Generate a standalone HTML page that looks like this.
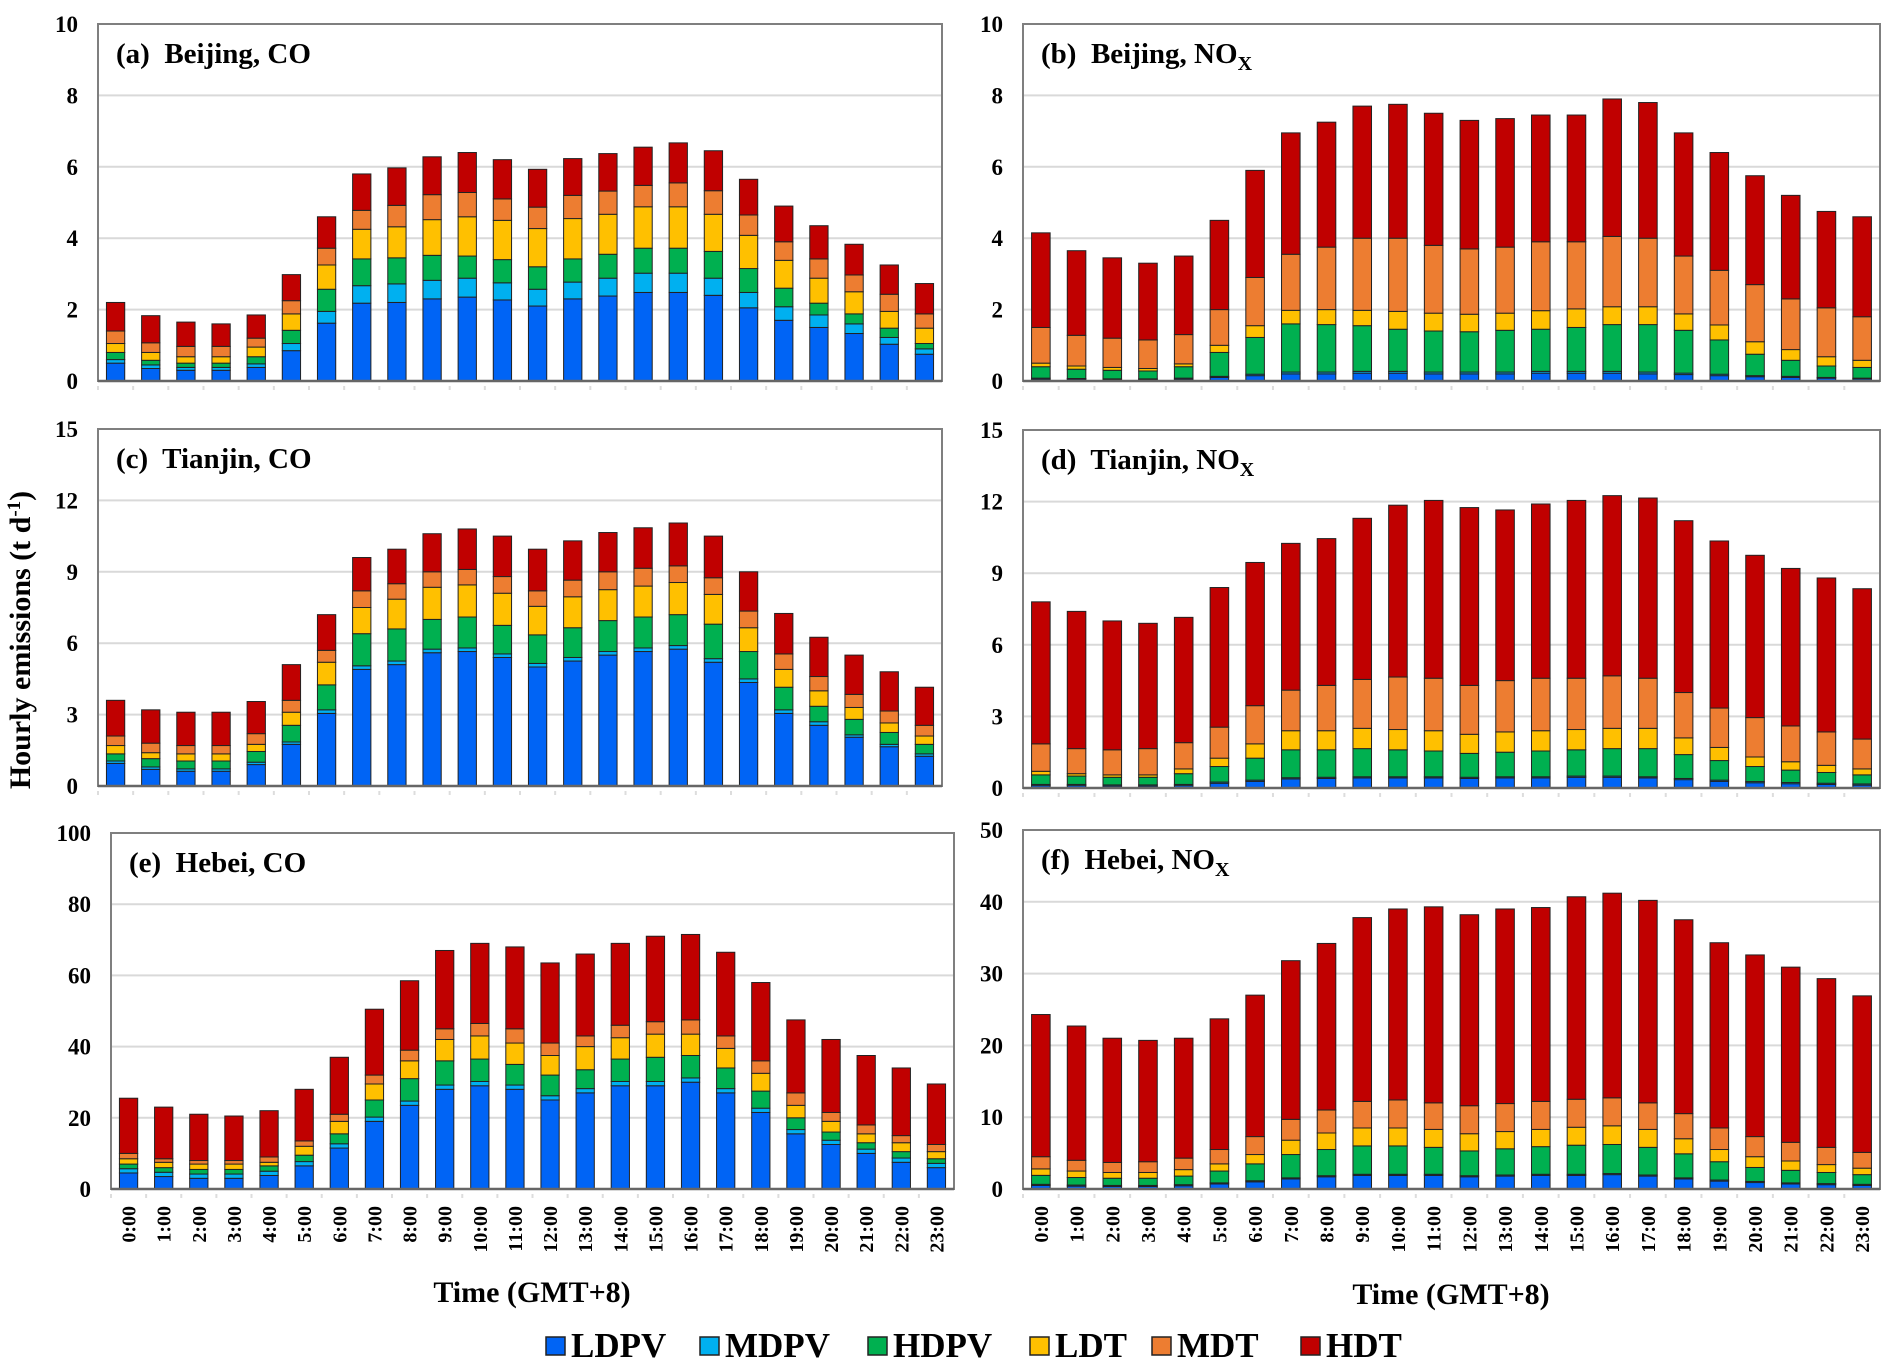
<!DOCTYPE html>
<html><head><meta charset="utf-8"><style>
html,body{margin:0;padding:0;background:#fff;}
svg{display:block;font-family:"Liberation Serif",serif;font-weight:bold;}
</style></head><body>
<svg id="fig" width="1903" height="1369" viewBox="0 0 1903 1369" xmlns="http://www.w3.org/2000/svg">
<rect width="1903" height="1369" fill="#fff"/>
<text transform="translate(30,640) rotate(-90)" text-anchor="middle" font-size="30">Hourly emissions (t d<tspan baseline-shift="super" font-size="19">-1</tspan>)</text>
<text x="532" y="1302" text-anchor="middle" font-size="30">Time (GMT+8)</text>
<text x="1451" y="1304" text-anchor="middle" font-size="30">Time (GMT+8)</text>
<g id="legend"></g>
</svg>
<script>
const hours = ["0:00","1:00","2:00","3:00","4:00","5:00","6:00","7:00","8:00","9:00","10:00","11:00","12:00","13:00","14:00","15:00","16:00","17:00","18:00","19:00","20:00","21:00","22:00","23:00"];
const seriesNames = ["LDPV","MDPV","HDPV","LDT","MDT","HDT"];
const seriesColors = ["#0064f5","#00b0f0","#00b050","#ffc000","#ed7d31","#c00000"];
// cumulative stack tops per series (LDPV, +MDPV, +HDPV, +LDT, +MDT, total incl. HDT)
const aLDPV=[0.5,0.35,0.3,0.3,0.38,0.85,1.62,2.18,2.2,2.3,2.35,2.27,2.1,2.3,2.38,2.48,2.48,2.4,2.05,1.7,1.5,1.33,1.03,0.75];
const aMDPV=[0.6,0.45,0.38,0.38,0.48,1.05,1.95,2.67,2.72,2.82,2.88,2.75,2.57,2.77,2.88,3.02,3.02,2.88,2.48,2.08,1.85,1.6,1.22,0.9];
const aHDPV=[0.8,0.58,0.5,0.5,0.68,1.42,2.57,3.42,3.45,3.52,3.5,3.4,3.2,3.42,3.55,3.72,3.72,3.63,3.15,2.6,2.18,1.88,1.48,1.05];
const aLDT=[1.05,0.8,0.68,0.68,0.95,1.88,3.25,4.25,4.32,4.52,4.6,4.5,4.27,4.55,4.67,4.88,4.88,4.67,4.08,3.38,2.88,2.5,1.95,1.48];
const aMDT=[1.4,1.07,0.97,0.97,1.2,2.25,3.72,4.78,4.92,5.22,5.28,5.1,4.87,5.2,5.32,5.48,5.55,5.33,4.65,3.9,3.42,2.97,2.43,1.88];
const aHDT=[2.2,1.83,1.65,1.6,1.85,2.98,4.6,5.8,5.97,6.28,6.4,6.2,5.93,6.23,6.37,6.55,6.67,6.45,5.65,4.9,4.35,3.83,3.25,2.73];

const bLDPV=[0.05,0.05,0.04,0.04,0.05,0.1,0.15,0.2,0.2,0.22,0.22,0.2,0.2,0.2,0.22,0.22,0.22,0.2,0.18,0.15,0.12,0.1,0.08,0.06];
const bMDPV=[0.08,0.07,0.06,0.06,0.08,0.13,0.19,0.25,0.25,0.27,0.27,0.25,0.25,0.25,0.27,0.27,0.27,0.25,0.22,0.19,0.15,0.13,0.1,0.08];
const bHDPV=[0.4,0.33,0.3,0.28,0.4,0.8,1.22,1.6,1.58,1.55,1.45,1.4,1.38,1.42,1.45,1.5,1.58,1.58,1.42,1.15,0.75,0.58,0.42,0.38];
const bLDT=[0.5,0.42,0.38,0.35,0.48,1.0,1.55,1.98,2.0,1.98,1.95,1.9,1.87,1.9,1.97,2.02,2.08,2.08,1.88,1.57,1.1,0.88,0.68,0.58];
const bMDT=[1.5,1.28,1.2,1.15,1.3,2.0,2.9,3.55,3.75,4.0,4.0,3.8,3.7,3.75,3.9,3.9,4.05,4.0,3.5,3.1,2.7,2.3,2.05,1.8];
const bHDT=[4.15,3.65,3.45,3.3,3.5,4.5,5.9,6.95,7.25,7.7,7.75,7.5,7.3,7.35,7.45,7.45,7.9,7.8,6.95,6.4,5.75,5.2,4.75,4.6];

const cLDPV=[0.95,0.7,0.62,0.62,0.9,1.75,3.05,4.9,5.1,5.6,5.65,5.4,5.0,5.25,5.5,5.65,5.75,5.2,4.35,3.05,2.55,2.05,1.65,1.25];
const cMDPV=[1.05,0.8,0.72,0.72,1.0,1.85,3.2,5.05,5.25,5.75,5.8,5.55,5.15,5.4,5.65,5.8,5.9,5.35,4.5,3.2,2.7,2.15,1.75,1.35];
const cHDPV=[1.35,1.15,1.05,1.05,1.45,2.55,4.25,6.4,6.6,7.0,7.1,6.75,6.35,6.65,6.95,7.1,7.2,6.8,5.65,4.15,3.35,2.8,2.25,1.75];
const cLDT=[1.7,1.4,1.35,1.35,1.75,3.1,5.2,7.5,7.85,8.35,8.45,8.1,7.55,7.95,8.25,8.4,8.55,8.05,6.65,4.9,4.0,3.3,2.65,2.1];
const cMDT=[2.1,1.8,1.7,1.7,2.2,3.6,5.7,8.2,8.5,9.0,9.1,8.8,8.2,8.65,9.0,9.15,9.25,8.75,7.35,5.55,4.6,3.85,3.15,2.55];
const cHDT=[3.6,3.2,3.1,3.1,3.55,5.1,7.2,9.6,9.95,10.6,10.8,10.5,9.95,10.3,10.65,10.85,11.05,10.5,9.0,7.25,6.25,5.5,4.8,4.15];

const dLDPV=[0.1,0.1,0.08,0.08,0.1,0.2,0.28,0.38,0.4,0.42,0.42,0.42,0.4,0.42,0.42,0.45,0.45,0.42,0.35,0.28,0.22,0.18,0.15,0.12];
const dMDPV=[0.15,0.15,0.13,0.13,0.15,0.25,0.33,0.43,0.45,0.47,0.47,0.47,0.45,0.47,0.47,0.5,0.5,0.47,0.4,0.33,0.27,0.23,0.2,0.17];
const dHDPV=[0.55,0.5,0.45,0.45,0.6,0.9,1.25,1.6,1.6,1.65,1.6,1.55,1.45,1.5,1.55,1.6,1.65,1.65,1.4,1.15,0.9,0.75,0.65,0.55];
const dLDT=[0.7,0.6,0.55,0.55,0.8,1.25,1.85,2.4,2.4,2.5,2.45,2.4,2.25,2.35,2.4,2.45,2.5,2.5,2.1,1.7,1.3,1.1,0.95,0.8];
const dMDT=[1.85,1.65,1.6,1.65,1.9,2.55,3.45,4.1,4.3,4.55,4.65,4.6,4.3,4.5,4.6,4.6,4.7,4.6,4.0,3.35,2.95,2.6,2.35,2.05];
const dHDT=[7.8,7.4,7.0,6.9,7.15,8.4,9.45,10.25,10.45,11.3,11.85,12.05,11.75,11.65,11.9,12.05,12.25,12.15,11.2,10.35,9.75,9.2,8.8,8.35];

const eLDPV=[4.5,3.5,3,3,3.8,6.5,11.5,19,23.5,28,29,28,25,27,29,29,30,27,21.5,15.5,12.5,10,7.5,6];
const eMDPV=[5.7,4.7,4.2,4.2,5.0,7.7,12.7,20.2,24.7,29.2,30.2,29.2,26.2,28.2,30.2,30.2,31.2,28.2,22.7,16.7,13.7,11.2,8.7,7.2];
const eHDPV=[7,6,5.5,5.5,6.5,9.5,15.5,25,31,36,36.5,35,32,33.5,36.5,37,37.5,34,27.5,20,16,13,10.5,8.5];
const eLDT=[8.5,7.5,7,7,7.5,12,19,29.5,36,42,43,41,37.5,40,42.5,43.5,43.5,39.5,32.5,23.5,19,15.5,13,10.5];
const eMDT=[10,8.5,8,8,9,13.5,21,32,39,45,46.5,45,41,43,46,47,47.5,43,36,27,21.5,18,15,12.5];
const eHDT=[25.5,23,21,20.5,22,28,37,50.5,58.5,67,69,68,63.5,66,69,71,71.5,66.5,58,47.5,42,37.5,34,29.5];

const fLDPV=[0.5,0.4,0.35,0.35,0.45,0.7,1.0,1.4,1.7,1.9,1.9,1.9,1.7,1.8,1.9,1.9,2.0,1.8,1.4,1.1,0.9,0.7,0.6,0.5];
const fMDPV=[0.65,0.55,0.5,0.5,0.6,0.85,1.15,1.55,1.85,2.05,2.05,2.05,1.85,1.95,2.05,2.05,2.15,1.95,1.55,1.25,1.05,0.85,0.75,0.65];
const fHDPV=[1.9,1.6,1.5,1.5,1.8,2.5,3.5,4.8,5.5,6,6,5.8,5.3,5.6,5.9,6.1,6.2,5.8,4.9,3.8,3,2.6,2.3,2.0];
const fLDT=[2.8,2.5,2.3,2.3,2.7,3.5,4.8,6.8,7.8,8.5,8.5,8.3,7.7,8.0,8.3,8.6,8.8,8.3,7.0,5.5,4.5,3.9,3.4,2.9];
const fMDT=[4.5,4,3.7,3.8,4.3,5.5,7.3,9.7,11,12.2,12.4,12,11.6,11.9,12.2,12.5,12.7,12,10.5,8.5,7.3,6.5,5.8,5.1];
const fHDT=[24.3,22.7,21,20.7,21,23.7,27,31.8,34.2,37.8,39,39.3,38.2,39,39.2,40.7,41.2,40.2,37.5,34.3,32.6,30.9,29.3,26.9];

const aTicks=[0,2,4,6,8,10], bTicks=[0,2,4,6,8,10];
const cTicks=[0,3,6,9,12,15], dTicks=[0,3,6,9,12,15];
const eTicks=[0,20,40,60,80,100], fTicks=[0,10,20,30,40,50];

const NS="http://www.w3.org/2000/svg";
const svg=document.getElementById('fig');
function mk(tag,attrs,parent){const e=document.createElementNS(NS,tag);for(const k in attrs)e.setAttribute(k,attrs[k]);(parent||svg).appendChild(e);return e;}

const panels=[
 {id:"a",letter:"(a)",place:"Beijing, ",sp:"CO",nox:false,x0:98,x1:942,y0:24,y1:381,ticks:aTicks,s:[aLDPV,aMDPV,aHDPV,aLDT,aMDT,aHDT],labels:false},
 {id:"b",letter:"(b)",place:"Beijing, ",sp:"NO",nox:true,x0:1023,x1:1880,y0:24,y1:381,ticks:bTicks,s:[bLDPV,bMDPV,bHDPV,bLDT,bMDT,bHDT],labels:false},
 {id:"c",letter:"(c)",place:"Tianjin, ",sp:"CO",nox:false,x0:98,x1:942,y0:429,y1:786,ticks:cTicks,s:[cLDPV,cMDPV,cHDPV,cLDT,cMDT,cHDT],labels:false},
 {id:"d",letter:"(d)",place:"Tianjin, ",sp:"NO",nox:true,x0:1023,x1:1880,y0:430,y1:788,ticks:dTicks,s:[dLDPV,dMDPV,dHDPV,dLDT,dMDT,dHDT],labels:false},
 {id:"e",letter:"(e)",place:"Hebei, ",sp:"CO",nox:false,x0:111,x1:954,y0:833,y1:1189,ticks:eTicks,s:[eLDPV,eMDPV,eHDPV,eLDT,eMDT,eHDT],labels:true},
 {id:"f",letter:"(f)",place:"Hebei, ",sp:"NO",nox:true,x0:1023,x1:1880,y0:830,y1:1189,ticks:fTicks,s:[fLDPV,fMDPV,fHDPV,fLDT,fMDT,fHDT],labels:true}
];

panels.forEach(p=>{
  const g=mk('g',{});
  
  
  const vmax=p.ticks[p.ticks.length-1];
  const yS=v=>p.y1-(v/vmax)*(p.y1-p.y0);
  const step=(p.x1-p.x0)/hours.length;
  const xS=i=>p.x0+step*(i+0.5);
  const bw=step*0.52;
  // gridlines + tick labels
  p.ticks.forEach(t=>{
    if(t>0&&t<vmax){const gl=mk('line',{x1:p.x0,x2:p.x1,y1:yS(t),y2:yS(t),stroke:"#d9d9d9","stroke-width":2},g);
      
      }
    const tl=mk('text',{x:p.x0-20,y:yS(t)+8,"text-anchor":"end","font-size":23},g);
    
    
    tl.textContent=t;
  });
  // bars
  hours.forEach((h,i)=>{
    let prev=0;
    p.s.forEach((arr,k)=>{
      const top=arr[i];
      const r=mk('rect',{x:xS(i)-bw/2,y:yS(top),width:bw,height:Math.max(0,yS(prev)-yS(top)),fill:seriesColors[k],stroke:"#222","stroke-width":1},g);
      
      
      prev=top;
    });
    const tk=mk('line',{x1:p.x0+step*i,x2:p.x0+step*i,y1:p.y1+5,y2:p.y1+9,stroke:"#ddd","stroke-width":2},g);
    
    
    if(p.labels){
      const xl=mk('text',{transform:`translate(${xS(i)+7},${p.y1+17}) rotate(-90)`,"text-anchor":"end","font-size":20},g);
      
      
      xl.textContent=h;
    }
  });
  // frame
  const fr=mk('rect',{x:p.x0,y:p.y0,width:p.x1-p.x0,height:p.y1-p.y0,fill:"none",stroke:"#7f7f7f","stroke-width":2},g);
  
  
  const ax=mk('line',{x1:p.x0,x2:p.x1,y1:p.y1,y2:p.y1,stroke:"#666","stroke-width":2.5},g);
  
  
  // title
  const tt=mk('text',{x:p.x0+18,y:p.y0+39,"font-size":29},g);
  
  
  tt.innerHTML=p.letter+'\u00a0 '+p.place+p.sp+(p.nox?'<tspan font-size="20" dy="7">X</tspan>':'');
});

// legend
const lg=document.getElementById('legend');
const legX=[546,700,868,1030,1152,1301];
seriesNames.forEach((n,k)=>{
  const e=mk('g',{},lg);
  
  
  mk('rect',{x:legX[k],y:1337,width:19,height:18,fill:seriesColors[k],stroke:"#222","stroke-width":1.5},e);
  const t=mk('text',{x:legX[k]+25,y:1357,"font-size":35},e);
  t.textContent=n;
});
</script>
</body></html>
